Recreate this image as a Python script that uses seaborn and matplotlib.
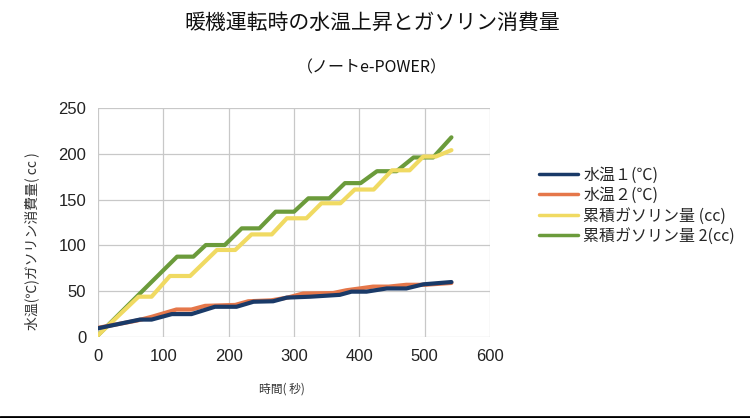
import matplotlib
matplotlib.use("Agg")
import matplotlib.pyplot as plt
import seaborn as sns
import pandas as pd
from matplotlib.lines import Line2D

# Données
t_temp1 = [0, 64, 82, 113, 143, 179, 212, 238, 268, 289, 325, 370, 388, 411, 442, 472, 498, 541]
temp1 = [9.5, 19, 19, 25, 25, 33, 33, 38.5, 39, 43, 44, 46, 49.5, 49.5, 53, 53, 57.5, 60]

t_temp2 = [0, 60, 82, 120, 143, 164, 210, 230, 265, 290, 314, 360, 380, 421, 445, 472, 500, 541]
temp2 = [10, 18, 22, 30, 30, 34, 35, 39, 40, 43, 47.5, 48, 51, 55, 55, 57, 57, 59]

t_gas1 = [0, 62, 82, 110, 141, 182, 210, 235, 266, 289, 319, 342, 371, 393, 422, 450, 477, 498, 517, 541]
gas1 = [2, 44, 44, 66.6, 66.6, 95, 95, 112, 112, 129.6, 129.6, 146, 146, 161, 161, 182, 182, 197, 197, 204]

t_gas2 = [0, 63, 121, 146, 165, 194, 220, 247, 272, 300, 322, 354, 378, 402, 427, 457, 483, 513, 541]
gas2 = [2, 46.7, 87.7, 87.7, 100.4, 100.4, 118.6, 118.6, 136.8, 136.8, 151.4, 151.4, 168, 168, 181, 181, 196, 196, 218]

labels = ["水温１(℃)", "水温２(℃)", "累積ガソリン量 (cc)", "累積ガソリン量 2(cc)"]
colors = ["#1a3a68", "#e5774a", "#f0da62", "#6b9b3b"]

frames = []
for lab, tt, vv in zip(labels, [t_temp1, t_temp2, t_gas1, t_gas2], [temp1, temp2, gas1, gas2]):
    frames.append(pd.DataFrame({"temps": tt, "valeur": vv, "serie": lab}))
df = pd.concat(frames, ignore_index=True)

sns.set_style("white")
plt.rcParams["font.family"] = ["Liberation Sans", "Noto Sans CJK JP", "DejaVu Sans"]
cjk = ["Noto Sans CJK JP", "DejaVu Sans"]

fig = plt.figure(figsize=(7.5, 4.18), dpi=100)
ax = fig.add_axes([0.1307, 0.1938, 0.5226, 0.5478])

# Ordre inverse : la première série passe au-dessus
for lab, col in reversed(list(zip(labels, colors))):
    sns.lineplot(data=df[df["serie"] == lab], x="temps", y="valeur", color=col,
                 sort=False, estimator=None, linewidth=3, ax=ax)

ax.set_xlim(0, 600)
ax.set_ylim(0, 250)
ax.set_xticks(range(0, 601, 100))
ax.set_yticks(range(0, 251, 50))
ax.grid(True, color="#c8c8c8", linewidth=0.9)
ax.set_axisbelow(True)
for s in ax.spines.values():
    s.set_visible(False)
ax.tick_params(axis="both", length=5, color="#c8c8c8", labelsize=12, labelcolor="#222222")

ax.set_xlabel("時間( 秒)", fontsize=8.5, color="#333333", family=cjk)
ax.xaxis.set_label_coords(0.47, -0.20)
ax.set_ylabel("水温(℃)ガソリン消費量( cc )", fontsize=10, color="#333333", family=cjk)
ax.yaxis.set_label_coords(-0.15, 0.42)

fig.text(0.496, 0.945, "暖機運転時の水温上昇とガソリン消費量", ha="center", va="center",
         fontsize=15, color="#111111", family=cjk)
fig.text(0.496, 0.837, "（ノートe-POWER）", ha="center", va="center",
         fontsize=11.5, color="#111111", family=cjk)

handles = [Line2D([0], [0], color=c, linewidth=2.5) for c in colors]
fig.legend(handles, labels, loc="center left", bbox_to_anchor=(0.7, 0.508),
           frameon=False, handlelength=2.4, labelspacing=0.22, handletextpad=0.35,
           prop={"family": cjk, "size": 11.5})

# Bordure inférieure
fig.add_artist(Line2D([0, 1], [0.003, 0.003], color="black", linewidth=2,
                      transform=fig.transFigure))

fig.savefig("out.png", dpi=100)
